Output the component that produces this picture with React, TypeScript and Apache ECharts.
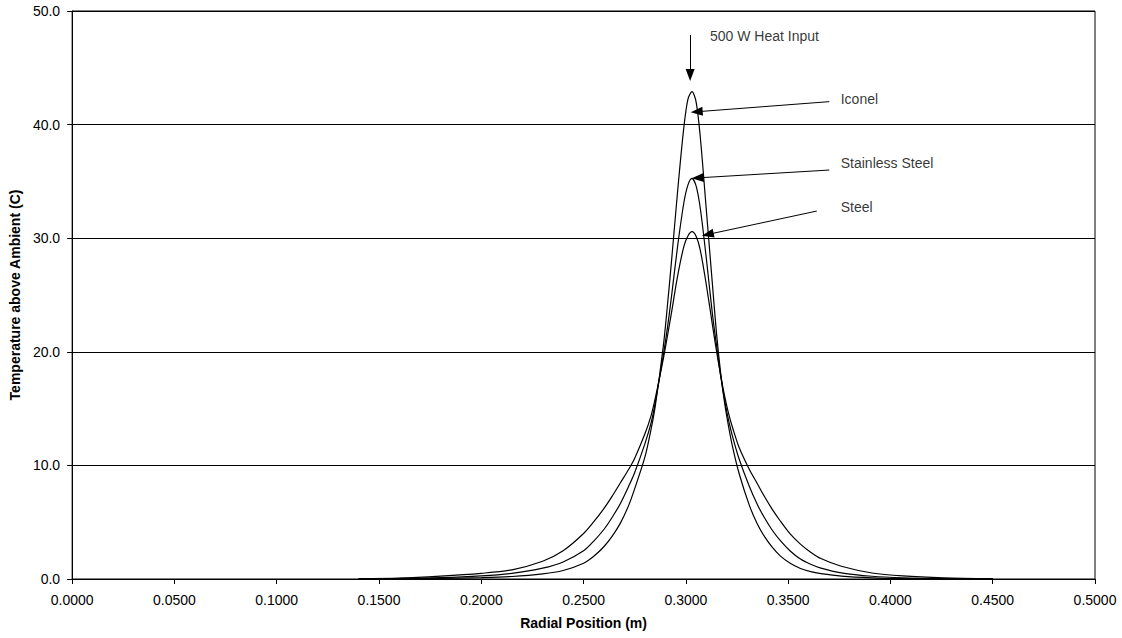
import React, { useEffect, useRef } from "react";
import * as echarts from "echarts";

// Radial position (m)
const radialPosition = [
  0.14, 0.16, 0.18, 0.2, 0.215, 0.23, 0.24, 0.25, 0.255, 0.26, 0.264, 0.268,
  0.272, 0.275, 0.28, 0.283, 0.285, 0.289, 0.291, 0.293, 0.296, 0.299, 0.301,
  0.303, 0.305, 0.307, 0.31, 0.313, 0.315, 0.317, 0.319, 0.321, 0.323, 0.326,
  0.331, 0.335, 0.338, 0.342, 0.346, 0.351, 0.356, 0.361, 0.366, 0.376, 0.391,
  0.406, 0.426, 0.45,
];

// Temperature above ambient (C)
const iconel = [
  0.003, 0.01, 0.05, 0.12, 0.22, 0.45, 0.75, 1.39, 2.0, 2.86, 3.78, 4.92,
  6.46, 7.96, 10.75, 13.19, 15.17, 20.52, 24.1, 28.0, 34.2, 39.73, 42.22,
  42.9, 42.01, 39.02, 32.5, 25.9, 21.6, 18.15, 15.43, 13.31, 11.5, 9.31,
  6.5, 4.81, 3.86, 2.84, 2.06, 1.38, 0.93, 0.65, 0.48, 0.26, 0.107,
  0.044, 0.013, 0.003,
];
const stainlessSteel = [
  0.02, 0.05, 0.12, 0.28, 0.5, 0.95, 1.5, 2.48, 3.34, 4.38, 5.44, 6.65,
  8.15, 9.38, 11.92, 13.74, 15.48, 19.74, 22.13, 24.9, 29.34, 33.1, 34.67,
  35.27, 34.61, 32.7, 28.23, 23.3, 20.56, 17.89, 15.69, 13.87, 12.43, 10.59,
  8.17, 6.54, 5.52, 4.36, 3.42, 2.47, 1.76, 1.3, 0.96, 0.54, 0.24,
  0.107, 0.036, 0.01,
];
const steel = [
  0.035, 0.08, 0.25, 0.5, 0.81, 1.56, 2.48, 4.0, 5.04, 6.22, 7.3, 8.47,
  9.64, 10.64, 12.78, 14.38, 15.87, 19.4, 21.39, 23.47, 26.7, 29.26, 30.2,
  30.57, 30.17, 29.0, 25.9, 22.35, 20.05, 17.95, 16.06, 14.49, 13.23, 11.6,
  9.66, 8.37, 7.39, 6.2, 5.15, 3.97, 3.07, 2.36, 1.8, 1.12, 0.53,
  0.27, 0.11, 0.035,
];

const xTicks = { min: 0, max: 0.5, interval: 0.05 };
const yTicks = { min: 0, max: 50, interval: 10 };

// Annotation texts and their anchor points (data coordinates)
const annotationTexts = ["500 W Heat Input", "Iconel", "Stainless Steel", "Steel"];
const annotationTextPos = [
  [0.3118, 47.8],
  [0.3757, 42.25],
  [0.3757, 36.59],
  [0.3757, 32.77],
];
// Arrows: [tailX, tailY, headCentreX, headCentreY]
const annotationArrows = [
  [0.3021, 47.89, 0.3021, 44.37],
  [0.3701, 42.02, 0.3053, 41.13],
  [0.3701, 36.0, 0.3058, 35.31],
  [0.364, 32.39, 0.3107, 30.33],
];

const FONT = "'Liberation Sans', Arial, sans-serif";

export default function App() {
  const ref = useRef<HTMLDivElement>(null);

  useEffect(() => {
    document.body.style.margin = "0";
    if (!ref.current) return;
    const chart = echarts.init(ref.current, undefined, { renderer: "svg" });

    const mk = (vals: number[]) => radialPosition.map((x, i) => [x, vals[i]]);
    const curve = (name: string, vals: number[]) => ({
      name,
      type: "line",
      data: mk(vals),
      showSymbol: false,
      smooth: 0.3,
      lineStyle: { color: "#000", width: 1.2 },
      silent: true,
      z: 3,
    });

    chart.setOption({
      animation: false,
      backgroundColor: "#fff",
      grid: {
        left: 72,
        right: 27,
        top: 11,
        bottom: 59,
        show: true,
        borderColor: "#000",
        borderWidth: 1,
        containLabel: false,
      },
      xAxis: {
        type: "value",
        min: xTicks.min,
        max: xTicks.max,
        interval: xTicks.interval,
        name: "Radial Position (m)",
        nameLocation: "middle",
        nameGap: 37,
        nameTextStyle: { fontFamily: FONT, fontSize: 14, fontWeight: "bold", color: "#000" },
        axisLine: { lineStyle: { color: "#000", width: 1 } },
        axisTick: { show: true, length: 5, lineStyle: { color: "#000" } },
        axisLabel: {
          fontFamily: FONT,
          fontSize: 14,
          color: "#000",
          margin: 14,
          formatter: (v: number) => v.toFixed(4),
        },
        splitLine: { show: false },
      },
      yAxis: {
        type: "value",
        min: yTicks.min,
        max: yTicks.max,
        interval: yTicks.interval,
        name: "Temperature above Ambient (C)",
        nameLocation: "middle",
        nameGap: 50,
        nameTextStyle: { fontFamily: FONT, fontSize: 14, fontWeight: "bold", color: "#000" },
        axisLine: { show: true, lineStyle: { color: "#000", width: 1 } },
        axisTick: { show: true, length: 5, lineStyle: { color: "#000" } },
        axisLabel: {
          fontFamily: FONT,
          fontSize: 14,
          color: "#000",
          margin: 12,
          formatter: (v: number) => v.toFixed(1),
        },
        splitLine: { show: true, lineStyle: { color: "#000", width: 1 } },
      },
      series: [
        curve("Iconel", iconel),
        curve("Stainless Steel", stainlessSteel),
        curve("Steel", steel),
        {
          name: "annotations",
          type: "scatter",
          symbolSize: 0,
          silent: true,
          data: annotationTexts.map((t, i) => ({ name: t, value: annotationTextPos[i] })),
          label: {
            show: true,
            position: "right",
            distance: 0,
            formatter: "{b}",
            fontFamily: FONT,
            fontSize: 14,
            color: "#000",
          },
          markLine: {
            silent: true,
            symbol: ["none", "triangle"],
            symbolSize: [9, 12],
            lineStyle: { color: "#000", width: 1, type: "solid" },
            label: { show: false },
            data: annotationArrows.map((a) => [
              { coord: [a[0], a[1]] },
              { coord: [a[2], a[3]] },
            ]),
          },
        },
      ],
    });

    return () => chart.dispose();
  }, []);

  return (
    <div
      ref={ref}
      style={{ position: "fixed", left: 0, top: 0, width: 1122, height: 638, background: "#fff" }}
    />
  );
}
